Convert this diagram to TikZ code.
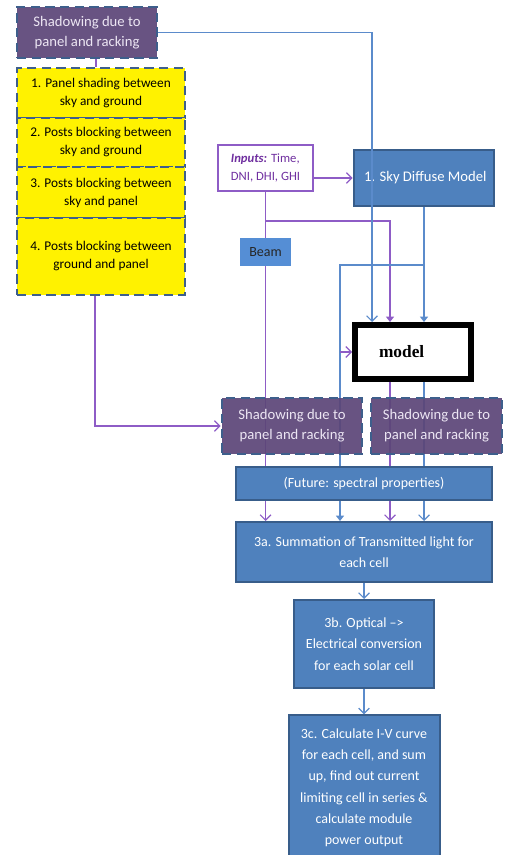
\documentclass[tikz,border=0pt]{standalone}
\usepackage{fontspec}
\setmainfont{Carlito}
\newfontfamily\modelfont{Liberation Serif}
\usetikzlibrary{arrows.meta,positioning,backgrounds}
\definecolor{boxblue}{HTML}{4F81BD}
\definecolor{boxedge}{HTML}{385D8A}
\definecolor{shadepurple}{HTML}{5C4678}
\definecolor{dashedge}{HTML}{3E5F8C}
\definecolor{linepurple}{HTML}{8E5CC6}
\definecolor{lineblue}{HTML}{5B8BCB}
\definecolor{inputpurple}{HTML}{7030A0}
\definecolor{beamblue}{HTML}{558ED5}
\definecolor{paletext}{HTML}{EDE6F4}

\begin{document}
\begin{tikzpicture}[
    x=0.75pt, y=-0.75pt,
    shadebox/.style={rectangle, draw=dashedge, line width=2pt, dash pattern=on 7pt off 4pt, fill=shadepurple, fill opacity=0.93, text opacity=1, text=paletext, align=center, font=\fontsize{11}{15}\selectfont, inner sep=2pt},
    yellowbox/.style={rectangle, draw=dashedge, line width=2pt, dash pattern=on 7pt off 4pt, fill=yellow, minimum width=126pt, align=center, font=\fontsize{10}{13.5}\selectfont, inner sep=2pt},
    stepbox/.style={rectangle, draw=boxedge, line width=1.5pt, fill=boxblue, text=white, align=center, font=\fontsize{10.5}{16}\selectfont},
    pline/.style={draw=linepurple, line width=0.9pt},
    bline/.style={draw=lineblue, line width=0.9pt},
    openhead/.style={-{Straight Barb[length=4pt, width=8pt]}},
    fullhead/.style={-{Triangle[length=4pt, width=6pt]}}
]
\useasboundingbox (0,0) rectangle (507,855);

% left column: shading cases
\node[shadebox, minimum width=105pt, minimum height=38.25pt] (shadetop) at (87,32.5) {Shadowing due to\\panel and racking};
\node[yellowbox, minimum height=37.5pt] (panel) at (101,93) {1. Panel shading between\\sky and ground};
\node[yellowbox, minimum height=36.75pt, below=-2pt of panel] (postsground) {2. Posts blocking between\\sky and ground};
\node[yellowbox, minimum height=38.25pt, below=-2pt of postsground] (postssky) {3. Posts blocking between\\sky and panel};
\node[yellowbox, minimum height=57.75pt, below=-2pt of postssky] (postspanel) {4. Posts blocking between\\ground and panel};

% inputs and irradiance
\node[draw=linepurple, line width=1pt, fill=white, minimum width=71.25pt, minimum height=34.5pt, align=left, text=inputpurple, font=\fontsize{9.5}{13.5}\selectfont] (inputs) at (265.5,168) {\textbf{\textit{Inputs:}} Time,\\DNI, DHI, GHI};
\node[stepbox, line width=2pt, minimum width=105pt, minimum height=42pt, font=\fontsize{11}{15}\selectfont] (sky) at (424,178) {\hspace{2pt}1. Sky Diffuse Model};
\node[fill=beamblue, minimum width=38.25pt, minimum height=21pt, text=black!85, font=\fontsize{10.5}{13}\selectfont] (beam) at (265.5,252) {Beam};
\node[draw=black, line width=4.5pt, fill=white, minimum width=87pt, minimum height=40.5pt, font=\modelfont\bfseries\fontsize{13}{15}\selectfont] (model) at (413,352) {model\hspace{17pt}\mbox{}};

\node[shadebox, minimum width=105pt, minimum height=42pt] (shadeleft) at (292,426) {Shadowing due to\\panel and racking};
\node[shadebox, minimum width=98.25pt, minimum height=42pt] (shaderight) at (436.5,426) {Shadowing due to\\panel and racking};

% processing chain
\node[stepbox, minimum width=192pt, minimum height=24.75pt] (future) at (364,483.5) {(Future: spectral properties)};
\node[stepbox, minimum width=192pt, minimum height=45pt] (sum) at (364,552) {3a. Summation of Transmitted light for\\each cell};
\node[stepbox, minimum width=105pt, minimum height=66pt, below=12pt of sum] (optical) {3b. Optical --{}>\\Electrical conversion\\for each solar cell};
\node[stepbox, minimum width=113.25pt, minimum height=108.75pt, below=19pt of optical] (ivcurve) {3c. Calculate I-V curve\\for each cell, and sum\\up, find out current\\limiting cell in series \&\\calculate module\\power output};

\begin{scope}[on background layer]
\draw[pline] (shadetop.south -| 96,0) -- (panel.north -| 96,0);
\draw[pline, openhead] (postspanel.south -| 95,0) |- (shadeleft.west);
\draw[pline, openhead] (inputs.south) -- (inputs.south |- sum.north);
\draw[pline, fullhead] (inputs.south |- 0,221) -| (model.north -| 390,0);
\draw[bline, fullhead] (sky.south) -- (sky.south |- model.north);
\draw[bline, fullhead] (sky.south |- 0,265) -| (sum.north -| 340,0);
\draw[pline, openhead] (model.south -| 390,0) -- (sum.north -| 390,0);
\draw[bline, openhead] (model.south -| 424,0) -- (sum.north -| 424,0);
\end{scope}

\draw[bline, openhead] (shadetop.east) -| (model.north -| 372,0);
\draw[pline, openhead] (inputs.east |- sky.west) -- (sky.west);
\draw[pline, openhead] (model.west -| 340,0) -- (model.west);
\draw[bline, openhead] (sum) -- (optical);
\draw[bline, openhead] (optical) -- (ivcurve);
\end{tikzpicture}
\end{document}
